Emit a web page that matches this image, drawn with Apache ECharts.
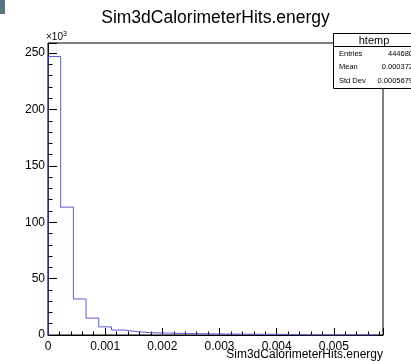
<!DOCTYPE html>
<html>
<head>
<meta charset="utf-8">
<script src="https://cdn.jsdelivr.net/npm/echarts@6/dist/echarts.min.js"></script>
<style>
  html, body { margin: 0; padding: 0; background: #fff; }
  #chart { width: 411px; height: 361px; }
</style>
</head>
<body>
<div id="chart"></div>
<script>
// histogram: bin counts in thousands (x10^3), bins start at 0
const binWidth = 0.000222;
const binCounts = [247, 113.4, 32, 15, 7.2, 4.4, 3.0, 2.1, 1.8, 1.5, 1.3, 1.1, 1.0, 0.9, 0.8, 0.7, 0.6, 0.6, 0.5, 0, 0, 0, 0, 0, 0, 0];
const xTickLabels = ['0', '0.001', '0.002', '0.003', '0.004', '0.005'];
const statsLabels = ['Entries', 'Mean', 'Std Dev'];
const statsValues = ['444680', '0.000372', '0.0005679'];

const FONT = 'Liberation Sans';

// step outline: start on the axis, one point per bin left edge, drop back to 0
const stepPoints = [[0, 0]];
binCounts.forEach((c, i) => stepPoints.push([i * binWidth, c]));
stepPoints.push([binCounts.length * binWidth, 0]);

const chart = echarts.init(document.getElementById('chart'), null, { renderer: 'canvas' });

const statsText = [];
statsLabels.forEach((lab, i) => {
  statsText.push({
    type: 'text', x: 339, y: 53.5 + i * 13.7, z: 102,
    style: { text: lab, font: '7.5px ' + FONT, fill: '#000', textAlign: 'left', textVerticalAlign: 'middle' }
  });
  statsText.push({
    type: 'text', x: 413, y: 53.5 + i * 13.7, z: 102,
    style: { text: statsValues[i], font: '7.5px ' + FONT, fill: '#000', textAlign: 'right', textVerticalAlign: 'middle' }
  });
});

chart.setOption({
  animation: false,
  backgroundColor: '#fff',
  grid: {
    left: 48, right: 28, top: 43, bottom: 26,
    show: true, borderColor: '#000', borderWidth: 1, backgroundColor: 'transparent'
  },
  xAxis: {
    type: 'value',
    min: 0, max: 0.00586, interval: 0.001,
    axisLine: { show: true, onZero: false, lineStyle: { color: '#000', width: 1 } },
    axisTick: { show: true, inside: true, length: 7, lineStyle: { color: '#000' } },
    minorTick: { show: true, splitNumber: 5, length: 3.5, lineStyle: { color: '#000' } },
    splitLine: { show: false },
    axisLabel: {
      showMaxLabel: false, margin: 6, color: '#000', fontFamily: FONT, fontSize: 12,
      formatter: v => xTickLabels[Math.round(v / 0.001)] ?? ''
    }
  },
  yAxis: {
    type: 'value',
    min: 0, max: 259, interval: 50,
    axisLine: { show: true, lineStyle: { color: '#000', width: 1 } },
    axisTick: { show: true, inside: true, length: 9, lineStyle: { color: '#000' } },
    minorTick: { show: true, splitNumber: 5, length: 4.5, lineStyle: { color: '#000' } },
    splitLine: { show: false },
    axisLabel: {
      showMaxLabel: false, margin: 3, color: '#000', fontFamily: FONT, fontSize: 12,
      formatter: v => (v % 50 === 0 ? String(v) : '')
    }
  },
  series: [{
    type: 'line',
    step: 'end',
    data: stepPoints,
    showSymbol: false,
    clip: true,
    lineStyle: { color: '#5a5ad2', width: 1 },
    z: 3
  }],
  graphic: [
    { type: 'rect', shape: { x: 0, y: 0, width: 5, height: 14 }, style: { fill: '#56737f' } },
    {
      type: 'text', x: 215.5, y: 18,
      style: { text: 'Sim3dCalorimeterHits.energy', font: '17.5px ' + FONT, fill: '#000', textAlign: 'center', textVerticalAlign: 'middle' }
    },
    {
      type: 'text', x: 383, y: 355,
      style: { text: 'Sim3dCalorimeterHits.energy', font: '12px ' + FONT, fill: '#000', textAlign: 'right', textVerticalAlign: 'middle' }
    },
    {
      type: 'text', x: 46, y: 37,
      style: {
        text: '\u00d710{s|3}', font: '10px ' + FONT, fill: '#000', textAlign: 'left', textVerticalAlign: 'middle',
        rich: { s: { fontSize: 7, fontFamily: FONT, verticalAlign: 'top', padding: [0, 0, 6, 0] } }
      }
    },
    {
      type: 'rect', z: 100,
      shape: { x: 333.5, y: 33.5, width: 90, height: 55 },
      style: { fill: '#fff', stroke: '#000', lineWidth: 1 }
    },
    {
      type: 'line', z: 101,
      shape: { x1: 333.5, y1: 46.5, x2: 420, y2: 46.5 },
      style: { stroke: '#000', lineWidth: 1 }
    },
    {
      type: 'text', x: 374, y: 40.5, z: 102,
      style: { text: 'htemp', font: '11px ' + FONT, fill: '#000', textAlign: 'center', textVerticalAlign: 'middle' }
    },
    ...statsText
  ]
});
</script>
</body>
</html>
